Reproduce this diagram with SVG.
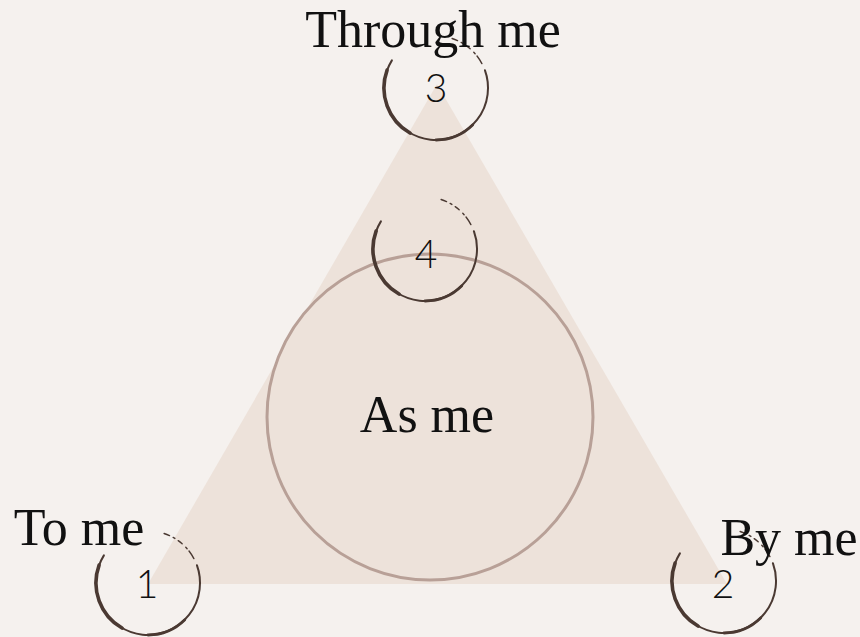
<svg xmlns="http://www.w3.org/2000/svg" xmlns:xlink="http://www.w3.org/1999/xlink" width="860" height="637" viewBox="0 0 860 637">
<style>
.lbl{font-family:"Liberation Serif","Times New Roman",serif;font-size:52px;fill:#111;text-anchor:middle}
.num{font-family:Lato,"Open Sans","Liberation Sans",sans-serif;font-weight:300;font-size:39px;fill:#111;text-anchor:middle}
.bs{fill:none;stroke:#4a3932;stroke-linecap:round}
</style>
<defs>
<g id="brush">
<path class="bs" stroke-width="2" d="M -44.1 -27.6 A 52 52 0 1 0 48.9 -17.8"/>
<path class="bs" stroke-width="3.6" d="M -48.9 -17.8 A 52 52 0 0 0 -26 45"/>
<path class="bs" stroke-width="2.8" d="M 0 52 A 52 52 0 0 0 36.8 36.8"/>
<path class="bs" stroke-width="1.4" stroke-dasharray="9 3 2 5 5 4 2 4" d="M 45.9 -24.4 A 52 52 0 0 0 16.1 -49.5"/>
</g>
</defs>
<rect width="860" height="637" fill="#f5f1ee"/>
<g id="triangle"><polygon points="437,84 148,584 727,584" fill="#ede2da"/></g>
<g id="as-me">
<circle cx="430" cy="417" r="163" fill="#ede2da" stroke="#b8a097" stroke-width="3"/>
<text class="lbl" x="427" y="432">As me</text>
</g>
<g id="node-3">
<use xlink:href="#brush" href="#brush" x="436" y="88"/>
<text class="num" x="436" y="102">3</text>
<text class="lbl" x="433" y="47">Through me</text>
</g>
<g id="node-4">
<use xlink:href="#brush" href="#brush" x="425" y="249"/>
<text class="num" x="426" y="268">4</text>
</g>
<g id="node-1">
<use xlink:href="#brush" href="#brush" x="148" y="583"/>
<text class="num" x="147" y="598">1</text>
<text class="lbl" x="79" y="545">To me</text>
</g>
<g id="node-2">
<use xlink:href="#brush" href="#brush" x="724" y="581"/>
<text class="num" x="723" y="598">2</text>
<text class="lbl" x="789" y="555">By me</text>
</g>
</svg>
